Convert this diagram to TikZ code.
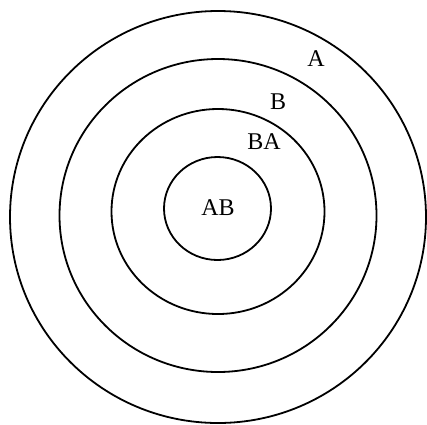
\documentclass[tikz,border=0pt]{standalone}
\usepackage{fontspec}
\setmainfont{Liberation Serif}
\usepackage{tikz}
\usetikzlibrary{positioning}

\begin{document}
\begin{tikzpicture}[
    x=1pt, y=-1pt,
    ring/.style={draw=black, line width=1.8pt},
    lbl/.style={font=\fontsize{24}{26}\selectfont, inner sep=0pt}
]
    \useasboundingbox (0,0) rectangle (427,424);
    % rings, outermost first
    \draw[ring] (218,217) ellipse [x radius=208, y radius=206];
    \draw[ring] (218,215.5) ellipse [x radius=158.5, y radius=156.5];
    \draw[ring] (218,211.5) ellipse [x radius=106.5, y radius=102.5];
    \draw[ring] (217.5,208.5) ellipse [x radius=53.5, y radius=51.5];

    \node[lbl] (a) at (316,59) {A};
    \node[lbl] (b) at (278,102) {B};
    \node[lbl] (ba) at (264,142) {BA};
    \node[lbl] (ab) at (218,208) {AB};
\end{tikzpicture}
\end{document}
